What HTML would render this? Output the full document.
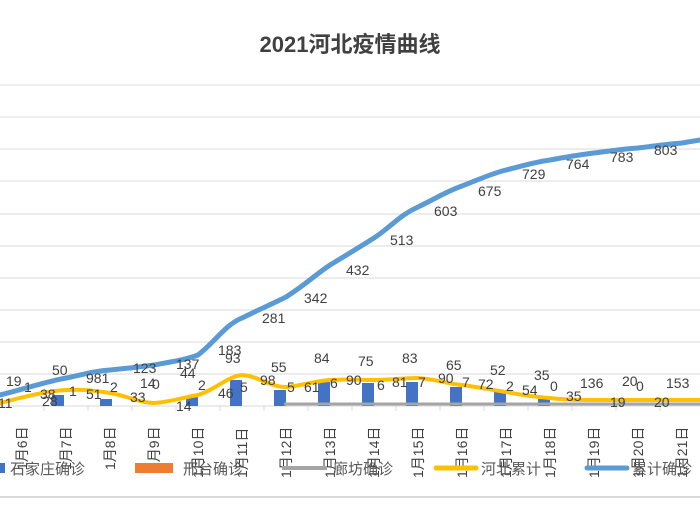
<!DOCTYPE html>
<html><head><meta charset="utf-8"><style>
body{margin:0;background:#fff;}
svg text{font-family:"Liberation Sans","Noto Sans CJK SC",sans-serif;}
</style></head><body>
<svg width="700" height="500" viewBox="0 0 700 500" xmlns="http://www.w3.org/2000/svg">
<rect width="700" height="500" fill="#fff"/>
<text x="350" y="52" text-anchor="middle" font-size="22" font-weight="bold" fill="#404040">2021河北疫情曲线</text>
<g stroke="#d9d9d9" stroke-width="1">
<line x1="0" y1="85" x2="700" y2="85"/><line x1="0" y1="117" x2="700" y2="117"/><line x1="0" y1="149" x2="700" y2="149"/><line x1="0" y1="181" x2="700" y2="181"/><line x1="0" y1="214" x2="700" y2="214"/><line x1="0" y1="246" x2="700" y2="246"/><line x1="0" y1="278" x2="700" y2="278"/><line x1="0" y1="310" x2="700" y2="310"/><line x1="0" y1="342" x2="700" y2="342"/><line x1="0" y1="374" x2="700" y2="374"/><line x1="0" y1="406" x2="700" y2="406"/>
<line x1="0" y1="497" x2="700" y2="497" stroke-width="2"/>
</g>
<g stroke="#d9d9d9"><line x1="44" y1="406" x2="44" y2="411"/><line x1="88" y1="406" x2="88" y2="411"/><line x1="132" y1="406" x2="132" y2="411"/><line x1="176" y1="406" x2="176" y2="411"/><line x1="220" y1="406" x2="220" y2="411"/><line x1="264" y1="406" x2="264" y2="411"/><line x1="308" y1="406" x2="308" y2="411"/><line x1="352" y1="406" x2="352" y2="411"/><line x1="396" y1="406" x2="396" y2="411"/><line x1="440" y1="406" x2="440" y2="411"/><line x1="484" y1="406" x2="484" y2="411"/><line x1="528" y1="406" x2="528" y2="411"/><line x1="572" y1="406" x2="572" y2="411"/><line x1="616" y1="406" x2="616" y2="411"/><line x1="660" y1="406" x2="660" y2="411"/></g>
<g fill="#4472c4">
<rect x="52" y="395" width="12" height="11"/><rect x="100" y="399" width="12" height="7"/><rect x="186" y="396" width="12" height="10"/><rect x="230" y="380" width="12" height="26"/><rect x="274" y="390" width="12" height="16"/><rect x="318" y="382" width="12" height="24"/><rect x="362" y="383" width="12" height="23"/><rect x="406" y="382" width="12" height="24"/><rect x="450" y="387" width="12" height="19"/><rect x="494" y="392" width="12" height="14"/><rect x="538" y="398" width="12" height="8"/>
</g>
<polyline fill="none" stroke="#a5a5a5" stroke-width="3" points="284,404 700,404"/>
<path fill="none" stroke="#5b9bd5" stroke-width="5" stroke-linecap="round" d="M0,395 C20,390 45,382 66,378 C85,374 95,371 110,370 C130,368 140,367 154,365 C170,362 185,360 198,355 C215,342 225,325 242,318 C258,310 270,305 286,297 C305,285 315,275 330,265 C345,256 358,248 374,238 C392,226 400,215 418,207 C435,199 445,192 462,186 C478,180 490,174 506,170 C522,166 535,162 550,160 C566,157 578,155 594,153 C610,151 622,149 638,148 C655,146 668,144 682,143 L700,140"/>
<path fill="none" stroke="#ffc000" stroke-width="4" stroke-linecap="round" d="M0,403 C20,398 45,391 66,390 C85,389 95,391 110,393 C128,396 140,403 154,403 C170,402 185,397 198,395 C215,390 228,376 242,375 C258,376 270,387 286,387 C300,386 315,381 330,380 C345,379 360,380 374,380 C390,380 405,378 418,378 C435,379 448,384 462,385 C478,387 492,390 506,392 C522,395 535,397 550,398 C566,400 580,400 594,400 L700,400"/>
<g font-size="14" fill="#404040">
<text x="6" y="386">19</text><text x="24" y="392">1</text><text x="-2" y="408">11</text>
<text x="52" y="375">50</text><text x="40" y="399">38</text><text x="69" y="396">1</text><text x="42" y="406">28</text>
<text x="86" y="383">981</text><text x="86" y="399">51</text><text x="110" y="392">2</text>
<text x="133" y="373">123</text><text x="140" y="388">14</text><text x="152" y="389">0</text><text x="130" y="402">33</text>
<text x="176" y="369">137</text><text x="180" y="378">44</text><text x="198" y="390">2</text><text x="176" y="411">14</text>
<text x="218" y="355">183</text><text x="225" y="363">93</text><text x="218" y="398">46</text><text x="240" y="392">5</text>
<text x="262" y="323">281</text><text x="271" y="372">55</text><text x="260" y="385">98</text><text x="287" y="392">5</text>
<text x="304" y="303">342</text><text x="314" y="363">84</text><text x="304" y="392">61</text><text x="330" y="388">6</text>
<text x="346" y="275">432</text><text x="358" y="366">75</text><text x="346" y="385">90</text><text x="377" y="390">6</text>
<text x="390" y="245">513</text><text x="402" y="363">83</text><text x="392" y="387">81</text><text x="418" y="387">7</text>
<text x="434" y="216">603</text><text x="446" y="370">65</text><text x="438" y="383">90</text><text x="462" y="387">7</text>
<text x="478" y="196">675</text><text x="490" y="375">52</text><text x="478" y="389">72</text><text x="506" y="391">2</text>
<text x="522" y="179">729</text><text x="534" y="380">35</text><text x="522" y="395">54</text><text x="550" y="391">0</text>
<text x="566" y="169">764</text><text x="580" y="388">136</text><text x="566" y="401">35</text>
<text x="610" y="162">783</text><text x="622" y="386">20</text><text x="636" y="391">0</text><text x="610" y="407">19</text>
<text x="654" y="155">803</text><text x="666" y="388">153</text><text x="654" y="407">20</text>
</g>
<g font-size="14" fill="#404040">
<text transform="translate(27,470) rotate(-90)">1月6日</text><text transform="translate(71,470) rotate(-90)">1月7日</text><text transform="translate(115,470) rotate(-90)">1月8日</text><text transform="translate(159,470) rotate(-90)">1月9日</text><text transform="translate(203,478) rotate(-90)">1月10日</text><text transform="translate(247,478) rotate(-90)">1月11日</text><text transform="translate(291,478) rotate(-90)">1月12日</text><text transform="translate(335,478) rotate(-90)">1月13日</text><text transform="translate(379,478) rotate(-90)">1月14日</text><text transform="translate(423,478) rotate(-90)">1月15日</text><text transform="translate(467,478) rotate(-90)">1月16日</text><text transform="translate(511,478) rotate(-90)">1月17日</text><text transform="translate(555,478) rotate(-90)">1月18日</text><text transform="translate(599,478) rotate(-90)">1月19日</text><text transform="translate(643,478) rotate(-90)">1月20日</text><text transform="translate(687,478) rotate(-90)">1月21日</text>
</g>
<g font-size="15" fill="#595959">
<rect x="0" y="463" width="5" height="10" fill="#4472c4"/><text x="10" y="474">石家庄确诊</text>
<rect x="135" y="463" width="38" height="10" fill="#ed7d31"/><text x="183" y="474">邢台确诊</text>
<line x1="282" y1="468" x2="327" y2="468" stroke="#a5a5a5" stroke-width="4"/><text x="333" y="474">廊坊确诊</text>
<line x1="436" y1="468" x2="476" y2="468" stroke="#ffc000" stroke-width="5" stroke-linecap="round"/><text x="481" y="474">河北累计</text>
<line x1="587" y1="468" x2="627" y2="468" stroke="#5b9bd5" stroke-width="5" stroke-linecap="round"/><text x="632" y="474">累计确诊</text>
</g>
</svg>
</body></html>
